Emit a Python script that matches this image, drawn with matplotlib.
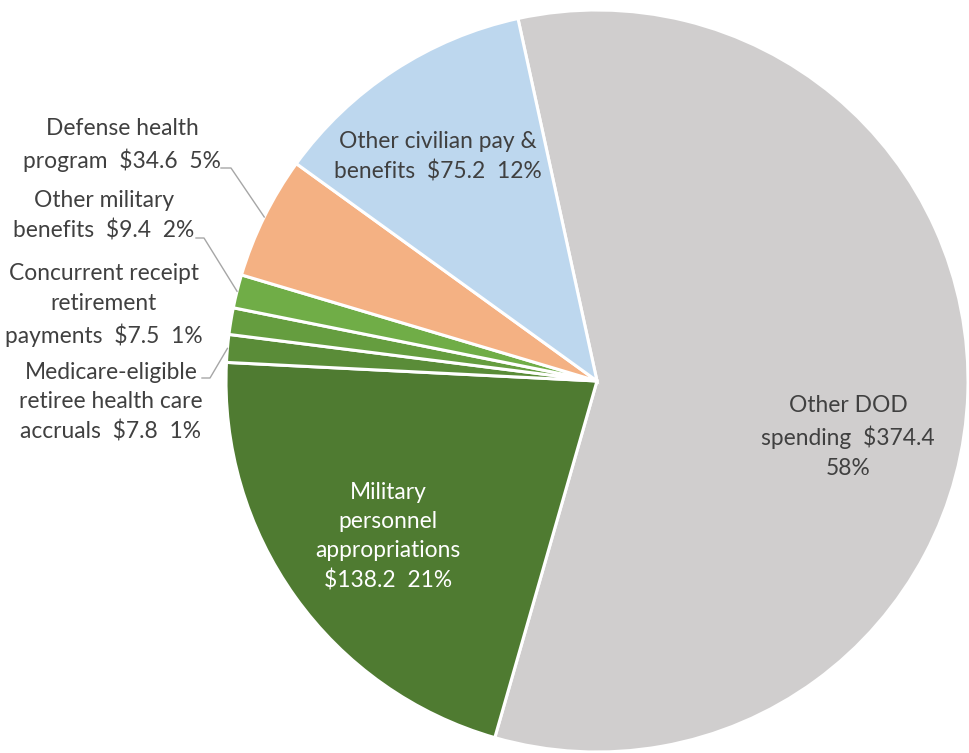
import numpy as np
import matplotlib.pyplot as plt

plt.rcParams['font.family'] = ['Lato', 'DejaVu Sans']

# DOD spending, billions of dollars (clockwise from the top)
names = ['Other DOD\nspending  $374.4\n58%',
         'Military\npersonnel\nappropriations\n$138.2  21%',
         'Medicare-eligible\nretiree health care\naccruals  $7.8  1%',
         'Concurrent receipt\nretirement\npayments  $7.5  1%',
         'Other military\nbenefits  $9.4  2%',
         'Defense health\nprogram  $34.6  5%',
         'Other civilian pay &\nbenefits  $75.2  12%']
values = [374.4, 138.2, 7.8, 7.5, 9.4, 34.6, 75.2]
colors = ['#D0CECE', '#4F7B31', '#5A8C38', '#659D3F', '#70AD47', '#F4B183', '#BDD7EE']
text_colors = ['#404040', 'white', '#404040', '#404040', '#404040', '#404040', '#404040']

W, H = 969, 753
fig = plt.figure(figsize=(W / 100, H / 100), dpi=100)
ax = fig.add_axes([0, 0, 1, 1])

cx, cy, r = 597, H - 381, 371
wedges, _ = ax.pie(values, colors=colors, startangle=102.3, counterclock=False,
                   center=(cx, cy), radius=r,
                   wedgeprops=dict(edgecolor='white', linewidth=2.2))
ax.set_xlim(0, W)
ax.set_ylim(0, H)
ax.set_aspect('equal')
ax.axis('off')

# label centres in pixel coords (from top-left)
label_pos = [(848, 437), (388, 537), (111, 402), (104, 305),
             (104, 216), (122, 145), (438, 157)]
for name, (px, py), tc in zip(names, label_pos, text_colors):
    ax.text(px, H - py, name, ha='center', va='center', multialignment='center',
            fontsize=16.4, color=tc, linespacing=1.48)

# leader lines: start of horizontal stub, end of stub
leaders = {2: (202, 210, 378), 4: (196, 204, 238), 5: (221, 231, 168)}
for i, (x0, x1, py) in leaders.items():
    w = wedges[i]
    mid = np.deg2rad((w.theta1 + w.theta2) / 2)
    ex = cx + r * np.cos(mid)
    ey = cy + r * np.sin(mid)
    ax.plot([x0, x1, ex], [H - py, H - py, ey], color='#A6A6A6', lw=1)

fig.savefig('out.png', dpi=100)
